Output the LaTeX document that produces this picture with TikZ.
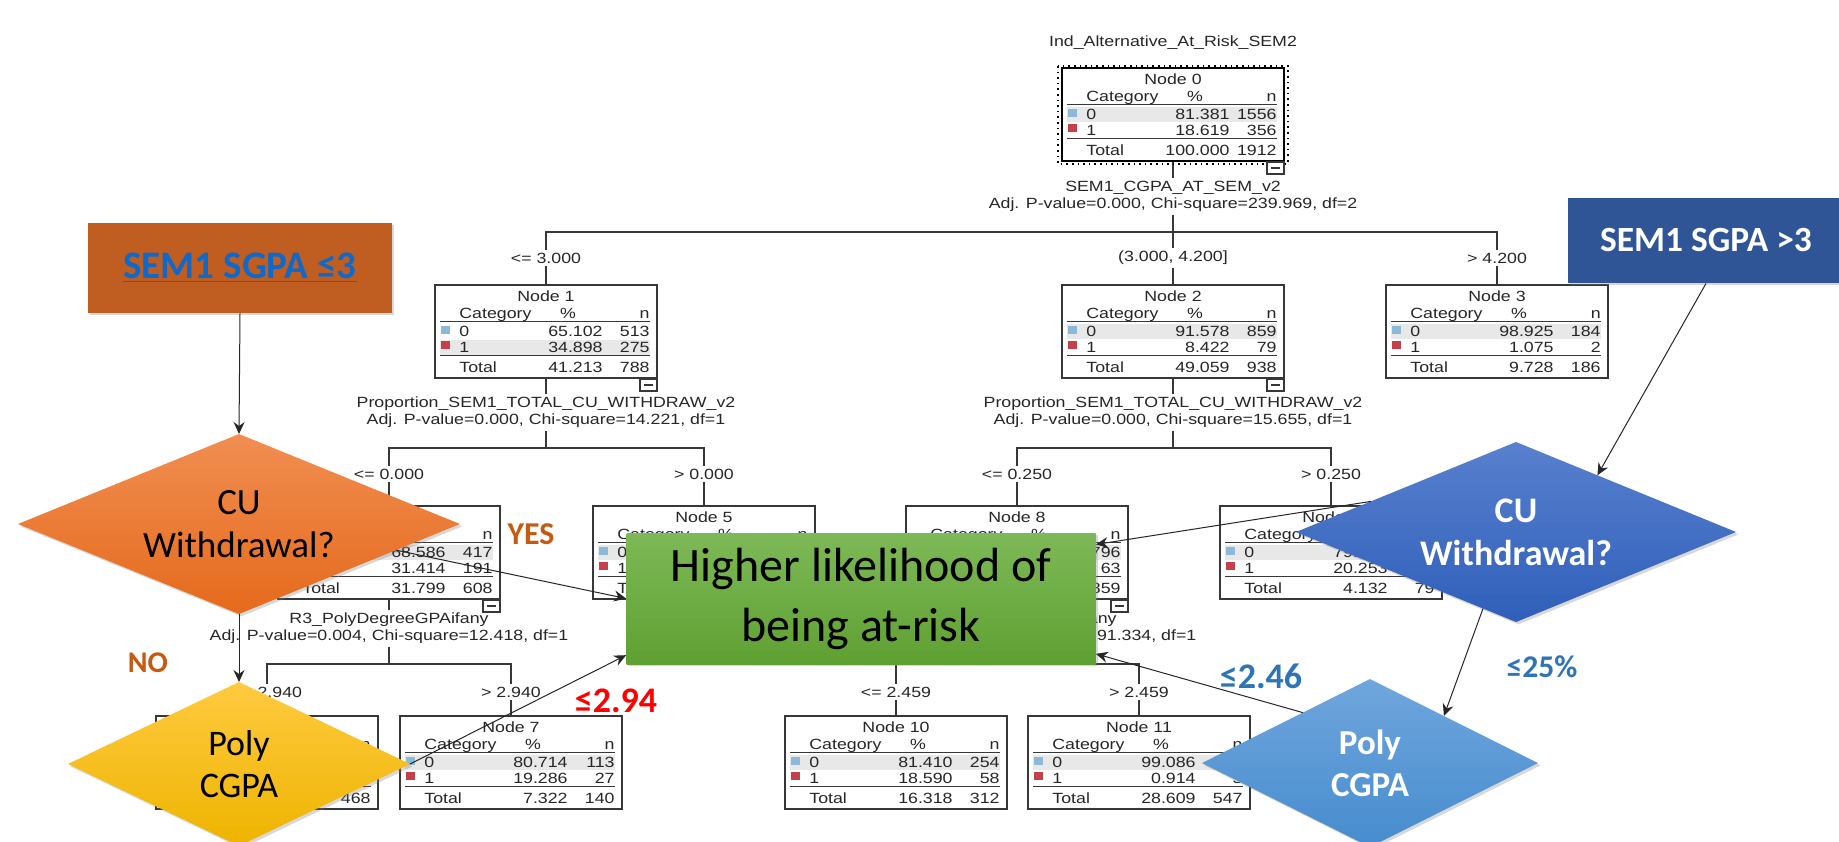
\documentclass[tikz,border=0pt]{standalone}
\usepackage{fontspec}
\newfontfamily\treefont{Liberation Sans}[FakeStretch=1.2]
\newfontfamily\calib{Carlito}
\usetikzlibrary{shapes.geometric,arrows.meta,calc,shadows}
\newcommand\tf{\treefont\fontsize{7.4pt}{8.5pt}\selectfont}
\newcommand\cf[2]{\calib\fontsize{#1}{#2}\selectfont}
\definecolor{orRect}{RGB}{192,94,33}
\definecolor{blueTxt}{RGB}{16,104,200}
\definecolor{orTop}{RGB}{241,142,82}
\definecolor{orBot}{RGB}{229,106,28}
\definecolor{yesC}{RGB}{197,90,17}
\definecolor{yeTop}{RGB}{255,202,64}
\definecolor{yeBot}{RGB}{238,180,0}
\definecolor{grTop}{RGB}{125,185,87}
\definecolor{grBot}{RGB}{95,160,50}
\definecolor{bRect}{RGB}{47,85,151}
\definecolor{buTop}{RGB}{88,128,206}
\definecolor{buBot}{RGB}{47,95,186}
\definecolor{blTop}{RGB}{112,166,221}
\definecolor{blBot}{RGB}{70,140,206}
\definecolor{lblB}{RGB}{46,117,182}
\definecolor{icA}{RGB}{140,186,214}
\definecolor{icB}{RGB}{196,64,74}
\definecolor{grayRow}{RGB}{232,232,232}
\definecolor{tline}{RGB}{55,55,55}
\begin{document}
\begin{tikzpicture}[x=0.5pt,y=-0.5pt,
  tt/.style={font=\tf, inner sep=0pt, text=black!85},
  lbl/.style={font=\tf, inner sep=1.5pt, fill=white, text=black!85},
  split/.style={font=\tf, inner sep=1.5pt, fill=white, text=black!85, align=center},
  treebox/.style={draw=tline, line width=0.6pt, minimum width=111pt, minimum height=46.5pt, inner sep=0pt, outer sep=0pt},
  treeline/.style={draw=tline, line width=0.6pt},
  rulel/.style={draw=tline, line width=0.5pt},
  shad/.style={drop shadow={opacity=0.3, shadow xshift=1.2pt, shadow yshift=-1.2pt}},
  dia/.style={diamond, inner sep=0pt, outer sep=0pt, align=center, shad},
  conn/.style={draw=black!85, line width=0.5pt, -{Stealth[length=6pt,width=5.5pt,inset=2pt]}}]
\useasboundingbox (0,0) rectangle (1839,841);
\fill[white] (0,0) rectangle (1839,841);

% ---------- tree connectors ----------
\coordinate (ya) at (0,232);
\coordinate (yb) at (0,448);
\coordinate (yc) at (0,664);
\coordinate (c0) at (1173,161);
\coordinate (c1) at (546,378);
\coordinate (c2) at (1173,378);
\coordinate (c4) at (389,599);
\coordinate (c8) at (1017,599);
\coordinate (t1) at (546,285);
\coordinate (t2) at (1173,285);
\coordinate (t3) at (1497,285);
\coordinate (t4) at (389,506);
\coordinate (t5) at (704,506);
\coordinate (t8) at (1017,506);
\coordinate (t9) at (1331,506);
\coordinate (t6) at (267,716);
\coordinate (t7) at (511,716);
\coordinate (t10) at (896,716);
\coordinate (t11) at (1139,716);
\draw[treeline] (c0) -- (c0 |- ya) -| (t1);
\draw[treeline] (c0 |- ya) -- (t2);
\draw[treeline] (c0 |- ya) -| (t3);
\draw[treeline] (c1) -- (c1 |- yb) -| (t4);
\draw[treeline] (c1 |- yb) -| (t5);
\draw[treeline] (c2) -- (c2 |- yb) -| (t8);
\draw[treeline] (c2 |- yb) -| (t9);
\draw[treeline] (c4) -- (c4 |- yc) -| (t6);
\draw[treeline] (c4 |- yc) -| (t7);
\draw[treeline] (c8) -- (c8 |- yc) -| (t10);
\draw[treeline] (c8 |- yc) -| (t11);

% ---------- tree texts ----------
\node[tt] (title) at (1173,43) {Ind\_Alternative\_At\_Risk\_SEM2};
\node[split] (s0) at (1173,196.5) {SEM1\_CGPA\_AT\_SEM\_v2\\Adj. P-value=0.000, Chi-square=239.969, df=2};
\node[split] (s1) at (546,412.5) {Proportion\_SEM1\_TOTAL\_CU\_WITHDRAW\_v2\\Adj. P-value=0.000, Chi-square=14.221, df=1};
\node[split] (s2) at (1173,412.5) {Proportion\_SEM1\_TOTAL\_CU\_WITHDRAW\_v2\\Adj. P-value=0.000, Chi-square=15.655, df=1};
\node[split] (s4) at (389,628.5) {R3\_PolyDegreeGPAifany\\Adj. P-value=0.004, Chi-square=12.418, df=1};
\node[split] (s8) at (1017,628.5) {R3\_PolyDegreeGPAifany\\Adj. P-value=0.000, Chi-square=91.334, df=1};
\node[lbl] (l1) at (546,258) {<= 3.000};
\node[lbl] (l2) at (1173,258) {(3.000, 4.200]};
\node[lbl] (l3) at (1497,258) {> 4.200};
\node[lbl] (l4) at (389,474) {<= 0.000};
\node[lbl] (l5) at (704,474) {> 0.000};
\node[lbl] (l8) at (1017,474) {<= 0.250};
\node[lbl] (l9) at (1331,474) {> 0.250};
\node[lbl] (l6) at (267,692) {<= 2.940};
\node[lbl] (l7) at (511,692) {> 2.940};
\node[lbl] (l10) at (896,692) {<= 2.459};
\node[lbl] (l11) at (1139,692) {> 2.459};

% ---------- tree boxes ----------
\foreach \Nm/\Cx/\Ty/\Nu/\Pa/\Na/\Pb/\Nb/\Pt/\Nt/\Gr in {
  n0/1173/68/0/81.381/1556/18.619/356/100.000/1912/39,
  n1/546/285/1/65.102/513/34.898/275/41.213/788/55,
  n2/1173/285/2/91.578/859/8.422/79/49.059/938/39,
  n3/1497/285/3/98.925/184/1.075/2/9.728/186/39,
  n4/389/506/4/68.586/417/31.414/191/31.799/608/39,
  n5/704/506/5/53.333/96/46.667/84/9.414/180/39,
  n8/1017/506/8/92.666/796/7.334/63/44.927/859/39,
  n9/1331/506/9/79.747/63/20.253/16/4.132/79/39,
  n6/267/716/6/64.957/304/35.043/164/24.477/468/39,
  n7/511/716/7/80.714/113/19.286/27/7.322/140/39,
  n10/896/716/10/81.410/254/18.590/58/16.318/312/39,
  n11/1139/716/11/99.086/542/0.914/5/28.609/547/39}{
  \fill[white] ({\Cx-111},\Ty) rectangle ({\Cx+111},{\Ty+93});
  \fill[grayRow] ({\Cx-106},{\Ty+\Gr}) rectangle ({\Cx+104},{\Ty+\Gr+15});
  \node[treebox, anchor=north] (\Nm) at (\Cx,\Ty) {};
  \node[tt, anchor=base] at (\Cx,{\Ty+16}) {Node \Nu};
  \node[tt, anchor=base west] at ({\Cx-87},{\Ty+33}) {Category};
  \node[tt, anchor=base] at ({\Cx+22},{\Ty+33}) {\%};
  \node[tt, anchor=base east] at ({\Cx+104},{\Ty+33}) {n};
  \draw[rulel] ({\Cx-106},{\Ty+36}) -- ({\Cx+104},{\Ty+36});
  \fill[icA] ({\Cx-105},{\Ty+41}) rectangle ({\Cx-96},{\Ty+49});
  \node[tt, anchor=base west] at ({\Cx-87},{\Ty+51}) {0};
  \node[tt, anchor=base east] at ({\Cx+57},{\Ty+51}) {\Pa};
  \node[tt, anchor=base east] at ({\Cx+104},{\Ty+51}) {\Na};
  \fill[icB] ({\Cx-105},{\Ty+56}) rectangle ({\Cx-96},{\Ty+64});
  \node[tt, anchor=base west] at ({\Cx-87},{\Ty+67}) {1};
  \node[tt, anchor=base east] at ({\Cx+57},{\Ty+67}) {\Pb};
  \node[tt, anchor=base east] at ({\Cx+104},{\Ty+67}) {\Nb};
  \draw[rulel] ({\Cx-106},{\Ty+70}) -- ({\Cx+104},{\Ty+70});
  \node[tt, anchor=base west] at ({\Cx-87},{\Ty+87}) {Total};
  \node[tt, anchor=base east] at ({\Cx+57},{\Ty+87}) {\Pt};
  \node[tt, anchor=base east] at ({\Cx+104},{\Ty+87}) {\Nt};
}
\draw[draw=black, line width=1.1pt] (n0.south west) rectangle (n0.north east);
\draw[draw=black, dotted, line width=0.8pt] ($(n0.north west)+(-4,-2)$) rectangle ($(n0.south east)+(4,3)$);
\foreach \Nm in {n0,n1,n2,n4,n8}{
  \draw[treeline, fill=white] ($(\Nm.south east)+(-17,1)$) rectangle ($(\Nm.south east)+(0,13)$);
  \draw[treeline] ($(\Nm.south east)+(-13,7)$) -- ($(\Nm.south east)+(-4,7)$);
}

% ---------- overlay shapes ----------
\node[rectangle, fill=orRect, minimum width=152pt, minimum height=45pt, inner sep=0pt, shad,
  text=blueTxt, font=\cf{19.5pt}{22pt}\bfseries] (sgl) at (240,268) {\underline{SEM1 SGPA ≤3}};
\node[rectangle, fill=bRect, minimum width=138pt, minimum height=42.5pt, inner sep=0pt, shad,
  text=white, font=\cf{17.7pt}{20pt}\bfseries] (sgr) at (1706,240.5) {SEM1 SGPA >3};

\node[dia, minimum width=221pt, minimum height=90pt, aspect=2.456, top color=orTop, bottom color=orBot,
  font=\cf{18.5pt}{21.5pt}] (cuL) at (239,524) {CU\\Withdrawal?};
\node[dia, minimum width=171pt, minimum height=82pt, aspect=2.085, top color=yeTop, bottom color=yeBot,
  font=\cf{18pt}{21pt}] (polyY) at (239,764) {Poly\\CGPA};
\node[dia, minimum width=220pt, minimum height=90pt, aspect=2.444, top color=buTop, bottom color=buBot,
  text=white, font=\cf{18pt}{21.5pt}\bfseries] (cuR) at (1516,532) {CU\\Withdrawal?};
\node[dia, minimum width=168pt, minimum height=84pt, aspect=2.0, top color=blTop, bottom color=blBot,
  text=white, font=\cf{17.5pt}{21pt}\bfseries] (polyB) at (1370,763) {Poly\\CGPA};

\node[rectangle, top color=grTop, bottom color=grBot, minimum width=234.5pt, minimum height=65.5pt,
  inner sep=0pt, shad, align=center, font=\cf{24pt}{30pt}] (green) at (861,598.5) {Higher likelihood of\\being at-risk};

% ---------- labels ----------
\node[text=yesC, font=\cf{15.9pt}{18pt}\bfseries, inner sep=0pt] (yes) at (531,534) {YES};
\node[text=yesC, font=\cf{15pt}{18pt}\bfseries, inner sep=0pt] (no) at (148,663) {NO};
\node[text=red, font=\cf{18pt}{20pt}\bfseries, inner sep=0pt] (l294) at (616,701) {≤2.94};
\node[text=lblB, font=\cf{18pt}{20pt}\bfseries, inner sep=0pt] (l246) at (1261,676) {≤2.46};
\node[text=lblB, font=\cf{15.8pt}{18pt}\bfseries, inner sep=0pt] (l25) at (1542,667) {≤25\%};

% ---------- arrows ----------
\draw[conn] (sgl.south) -- (cuL.north);
\draw[conn] ($(cuL.east)!0.29!(cuL.south)$) -- (green.west);
\draw[conn] (cuL.south) -- (polyY.north);
\draw[conn] (polyY.east) -- ($(green.south west)!0.07!(green.north west)$);
\draw[conn] (sgr.south) -- ($(cuR.north)!0.37!(cuR.east)$);
\draw[conn] ($(cuR.west)!0.34!(cuR.north)$) -- ($(green.north east)!0.09!(green.south east)$);
\draw[conn] ($(cuR.west)!0.85!(cuR.south)$) -- ($(polyB.north)!0.44!(polyB.east)$);
\draw[conn] ($(polyB.west)!0.6!(polyB.north)$) -- ($(green.north east)!0.92!(green.south east)$);
\end{tikzpicture}
\end{document}
